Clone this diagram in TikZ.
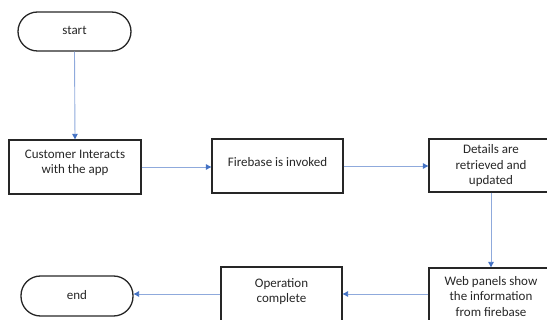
\documentclass[tikz,border=0pt]{standalone}
\usepackage{fontspec}
\setmainfont{Carlito}
\usetikzlibrary{arrows.meta}
\definecolor{boxline}{HTML}{262626}
\definecolor{txtcol}{HTML}{262626}
\definecolor{arrline}{HTML}{8FAADC}
\definecolor{arrhead}{HTML}{4472C4}
\begin{document}
\begin{tikzpicture}[x=1pt,y=-1pt,
  box/.style={draw=boxline,line width=1.3pt,rectangle,inner sep=0pt},
  term/.style={draw=boxline,line width=1.3pt,rectangle,rounded corners=19.5pt,inner sep=0pt},
  txt/.style={text=txtcol,align=center,inner sep=0pt,font=\fontsize{13}{15.5}\selectfont},
  conn/.style={draw=arrline,line width=0.9pt,-{Triangle[length=5.5pt,width=5.5pt,color=arrhead]}}]
\useasboundingbox (0,0) rectangle (547,320);
\clip (0,0) rectangle (547,320);
% terminals
\node[term,minimum width=113pt,minimum height=39pt] (start) at (74.5,31.5) {};
\node[txt] (startt) at (74.5,30.5) {start};
\node[term,minimum width=112pt,minimum height=40pt] (end) at (77,296) {};
\node[txt] (endt) at (77,295) {end};
% boxes
\node[box,minimum width=132pt,minimum height=54pt] (cust) at (75,167) {};
\node[txt] (custt) at (75,163) {Customer Interacts\\with the app};
\node[box,minimum width=131pt,minimum height=54pt] (fire) at (277.5,166) {};
\node[txt] (firet) at (277.5,162) {Firebase is invoked};
\node[box,minimum width=124pt,minimum height=53pt] (det) at (491,165.5) {};
\node[txt] (dett) at (491,166) {Details are\\retrieved and\\updated};
\node[box,minimum width=124pt,minimum height=56pt] (web) at (491,296) {};
\node[txt] (webt) at (491,296.5) {Web panels show\\the information\\from firebase};
\node[box,minimum width=121pt,minimum height=54pt] (op) at (281.5,294) {};
\node[txt] (opt) at (281.5,291.5) {Operation\\complete};
% connectors
\draw[conn] (start.south) -- (cust.north);
\draw[conn] (cust.east) -- (cust.east -| fire.west);
\draw[conn] (fire.east) -- (fire.east -| det.west);
\draw[conn] (det.south) -- (web.north);
\draw[conn] (web.west |- op.east) -- (op.east);
\draw[conn] (op.west) -- (op.west -| end.east);
\end{tikzpicture}
\end{document}
